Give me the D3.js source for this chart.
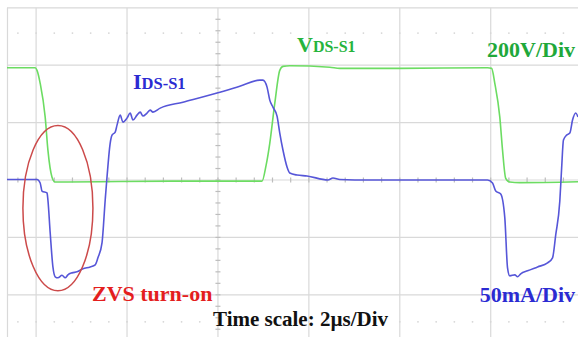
<!DOCTYPE html>
<html>
<head>
<meta charset="utf-8">
<script src="https://cdn.jsdelivr.net/npm/d3@7"></script>
<style>
  html, body { margin: 0; padding: 0; background: #fff; }
  svg { display: block; }
  text { font-family: "Liberation Serif", "Times New Roman", serif; font-weight: bold; }
</style>
</head>
<body>
<div id="chart"></div>
<script>
// scope settings: 2us/Div, 200V/Div, 50mA/Div
const timePerDiv = 2;      // us
const voltPerDiv = 200;    // V
const ampPerDiv = 50;      // mA

// V_DS-S1 trace (time in us, volts)
const vdsTime = [-0.64, -0.02, 0.02, 0.09, 0.2, 0.26, 0.35, 0.42, 0.53, 1.41, 3.17, 4.97, 5.06, 5.14, 5.25, 5.36, 5.43, 5.58, 6.46, 6.68, 8.0, 9.93, 10.02, 10.09, 10.2, 10.26, 10.33, 10.42, 10.64, 11.92];
const vdsVolts = [395, 395, 386, 341, 223, 108, 14, -3, -3, -2, 0, 0, 56, 132, 271, 386, 400, 402, 397, 393, 393, 395, 393, 341, 223, 108, 10, -3, -5, -2];

// I_DS-S1 trace (time in us, mA)
const idsTime = [-0.64, 0.02, 0.09, 0.13, 0.24, 0.26, 0.31, 0.37, 0.42, 0.48, 0.57, 0.64, 0.7, 0.79, 0.9, 1.03, 1.19, 1.3, 1.36, 1.45, 1.52, 1.56, 1.63, 1.67, 1.74, 1.78, 1.85, 1.91, 2.0, 2.07, 2.13, 2.22, 2.29, 2.35, 2.44, 2.51, 2.57, 2.73, 3.23, 3.98, 4.48, 4.92, 4.99, 5.08, 5.14, 5.21, 5.3, 5.36, 5.43, 5.52, 5.58, 5.74, 5.96, 6.42, 6.53, 6.68, 7.01, 9.93, 10.04, 10.11, 10.22, 10.31, 10.37, 10.42, 10.53, 10.59, 10.66, 10.81, 11.03, 11.25, 11.36, 11.43, 11.52, 11.56, 11.6, 11.67, 11.74, 11.8, 11.87, 11.92];
const idsAmps = [0.4, 0.4, -2.6, -9.6, -11.3, -17.4, -46, -75.7, -84.3, -85.2, -83, -85.2, -82.6, -80.9, -80, -77.4, -75.7, -73.9, -67.8, -54.8, -17.4, 2.6, 32.2, 39.1, 41.7, 47.8, 56.5, 50.4, 53.9, 58.3, 52.2, 56.5, 59.1, 55.7, 58.3, 60.9, 59.1, 62.6, 67.8, 75.7, 81.7, 87, 87, 80.9, 69.6, 63.5, 55.7, 40.9, 26.1, 11.3, 6.1, 4.3, 3.5, 0, 1.7, 0.4, 0, 0, -2.6, -9.6, -12.2, -33, -76.5, -83.5, -82.6, -84.3, -81.7, -79.1, -75.7, -72.2, -67.8, -47.8, -18.3, 10.4, 34.8, 39.1, 40.9, 52.2, 58.3, 54.8];

// graticule
const gridTimes = [0, 2, 4, 6, 8, 10];
const gridDivs = [3, 2, 1, 0, -1, -2];

const width = 578, height = 337;

// time -> px, one division = 91px, t=0 on the second line
const x = d3.scaleLinear().domain([-0.64, 11.92]).range([7, 578]);
// divisions -> px, centre line at 180
const yDiv = d3.scaleLinear().domain([-1, 1]).range([237.4, 122.6]);
const yV = d3.scaleLinear().domain([0, voltPerDiv]).range([yDiv(-0.02), yDiv(0.98)]);
const yI = d3.scaleLinear().domain([0, ampPerDiv]).range([yDiv(0), yDiv(1)]);

const svg = d3.select('#chart').append('svg')
    .attr('width', width)
    .attr('height', height);

svg.append('rect').attr('width', width).attr('height', height).attr('fill', '#fff');

const grid = svg.append('g').attr('stroke', '#d9d9d9').attr('stroke-width', 1.2);

// left and top border of the screen
grid.append('line')
    .attr('x1', x(-0.64) + 0.5).attr('x2', x(-0.64) + 0.5)
    .attr('y1', yDiv(3)).attr('y2', height);
grid.selectAll('.vline').data(gridTimes).join('line')
    .attr('x1', d => x(d)).attr('x2', d => x(d))
    .attr('y1', yDiv(3)).attr('y2', height);
grid.selectAll('.hline').data(gridDivs).join('line')
    .attr('x1', x(-0.64)).attr('x2', width)
    .attr('y1', d => yDiv(d)).attr('y2', d => yDiv(d));

// minor ticks on the centre lines
const hTicks = d3.range(-0.4, 11.92, 0.4);
grid.selectAll('.htick').data(hTicks).join('line')
    .attr('x1', d => x(d)).attr('x2', d => x(d))
    .attr('y1', yDiv(0) - 2.5).attr('y2', yDiv(0) + 2.5)
    .attr('stroke', '#bdbdbd');
const vTicks = d3.range(-2.8, 3, 0.2);
grid.selectAll('.vtick').data(vTicks).join('line')
    .attr('x1', x(4) - 2.5).attr('x2', x(4) + 2.5)
    .attr('y1', d => yDiv(d)).attr('y2', d => yDiv(d))
    .attr('stroke', '#bdbdbd');

// faint dotted rows near the top and the bottom
const dotRows = [2.56, -2.47];
dotRows.forEach(r => {
    svg.append('g').selectAll('circle').data(d3.range(-0.4, 11.92, 0.4)).join('circle')
        .attr('cx', d => x(d)).attr('cy', yDiv(r)).attr('r', 0.9)
        .attr('fill', '#d6d6d6');
});

// traces
const vdsLine = d3.line().curve(d3.curveMonotoneX)
    .x(i => x(vdsTime[i])).y(i => yV(vdsVolts[i]));
const idsLine = d3.line().curve(d3.curveMonotoneX)
    .x(i => x(idsTime[i])).y(i => yI(idsAmps[i]));

svg.append('path')
    .attr('d', vdsLine(d3.range(vdsTime.length)))
    .attr('fill', 'none')
    .attr('stroke', '#6cdc62')
    .attr('stroke-width', 1.6)
    .attr('stroke-linejoin', 'round');

svg.append('path')
    .attr('d', idsLine(d3.range(idsTime.length)))
    .attr('fill', 'none')
    .attr('stroke', '#5656d8')
    .attr('stroke-width', 1.6)
    .attr('stroke-linejoin', 'round');

// ZVS highlight
svg.append('ellipse')
    .attr('cx', x(0.48)).attr('cy', yDiv(-0.49))
    .attr('rx', x(0.77) - x(0)).attr('ry', yDiv(0) - yDiv(1.44))
    .attr('fill', 'none')
    .attr('stroke', '#cc4a4a')
    .attr('stroke-width', 1.5);

// labels
const ids = svg.append('text').attr('x', 133).attr('y', 89).attr('fill', '#2b2bd2');
ids.append('tspan').attr('font-size', 22).text('I');
ids.append('tspan').attr('font-size', 16.5).text('DS-S1');

const vds = svg.append('text').attr('x', 297).attr('y', 52).attr('fill', '#26b43c');
vds.append('tspan').attr('font-size', 22).text('V');
vds.append('tspan').attr('font-size', 16).text('DS-S1');

svg.append('text').attr('x', 575).attr('y', 57).attr('text-anchor', 'end')
    .attr('font-size', 22).attr('fill', '#1fa83a').text('200V/Div');

svg.append('text').attr('x', 575).attr('y', 302).attr('text-anchor', 'end')
    .attr('font-size', 22).attr('fill', '#2b2bd2').text('50mA/Div');

svg.append('text').attr('x', 92).attr('y', 301)
    .attr('font-size', 22).attr('fill', '#e41e1e').text('ZVS turn-on');

svg.append('text').attr('x', 213).attr('y', 326)
    .attr('font-size', 21).attr('fill', '#111').text('Time scale: 2\u00b5s/Div');
</script>
</body>
</html>
